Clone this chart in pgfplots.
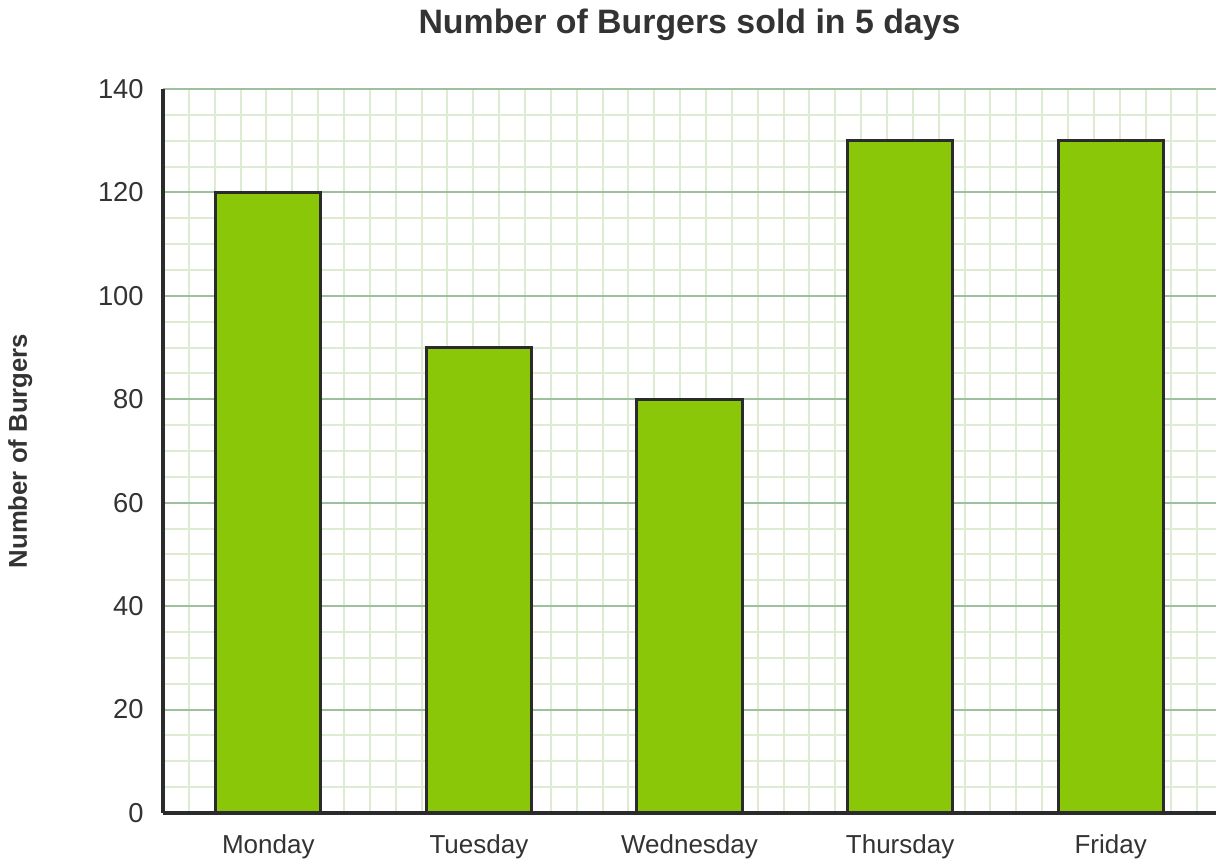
\documentclass[border=0pt]{standalone}
\usepackage{pgfplots}
\pgfplotsset{compat=1.18}
\usetikzlibrary{calc}
\usepackage{fontspec}
\setmainfont{Liberation Sans}
\definecolor{barfill}{RGB}{138,199,8}
\definecolor{barline}{RGB}{43,43,43}
\definecolor{gmaj}{RGB}{157,192,157}
\definecolor{gmin}{RGB}{220,235,210}
\definecolor{txt}{RGB}{51,51,51}
\begin{document}
\begin{tikzpicture}
\begin{axis}[
  name=ax,
  scale only axis,
  width=789.75pt, height=543pt,
  xmin=-0.5, xmax=4.5, ymin=0, ymax=140,
  axis x line=bottom, axis y line=left,
  axis line style={line width=3pt, color=barline, -},
  xtick={0,1,2,3,4},
  xticklabels={Monday,Tuesday,Wednesday,Thursday,Friday},
  minor xtick={-0.377223,-0.254446,...,4.45},
  ytick={0,20,...,140},
  minor ytick={5,10,15,25,30,35,45,50,55,65,70,75,85,90,95,105,110,115,125,130,135},
  major tick length=0pt, minor tick length=0pt,
  ymajorgrids=true, yminorgrids=true, xminorgrids=true, xmajorgrids=false,
  major grid style={color=gmaj, line width=1.5pt},
  minor grid style={color=gmin, line width=1.5pt},
  x tick label style={font=\fontsize{19.5pt}{22pt}\selectfont, text=txt, yshift=-12.75pt},
  y tick label style={font=\fontsize{20.5pt}{24pt}\selectfont, text=txt, xshift=-11pt},
  /pgf/number format/assume math mode=true,
  ybar, bar width=0.5,
  clip=false,
]
\addplot[fill=barfill, draw=barline, line width=2.25pt] coordinates {(0,120) (1,90) (2,80) (3,130) (4,130)};
\end{axis}
\node[font=\bfseries\fontsize{25.4pt}{30pt}\selectfont, text=txt] at ($(ax.north)+(0,48pt)$) {Number of Burgers sold in 5 days};
\node[font=\bfseries\fontsize{19.3pt}{23pt}\selectfont, text=txt, rotate=90] at ($(ax.west)+(-107pt,0)$) {Number of Burgers};
\pgfresetboundingbox
\path ($(ax.south west)+(-122.25pt,-39.75pt)$) rectangle ($(ax.north east)+(6pt,66.75pt)$);
\end{tikzpicture}
\end{document}
